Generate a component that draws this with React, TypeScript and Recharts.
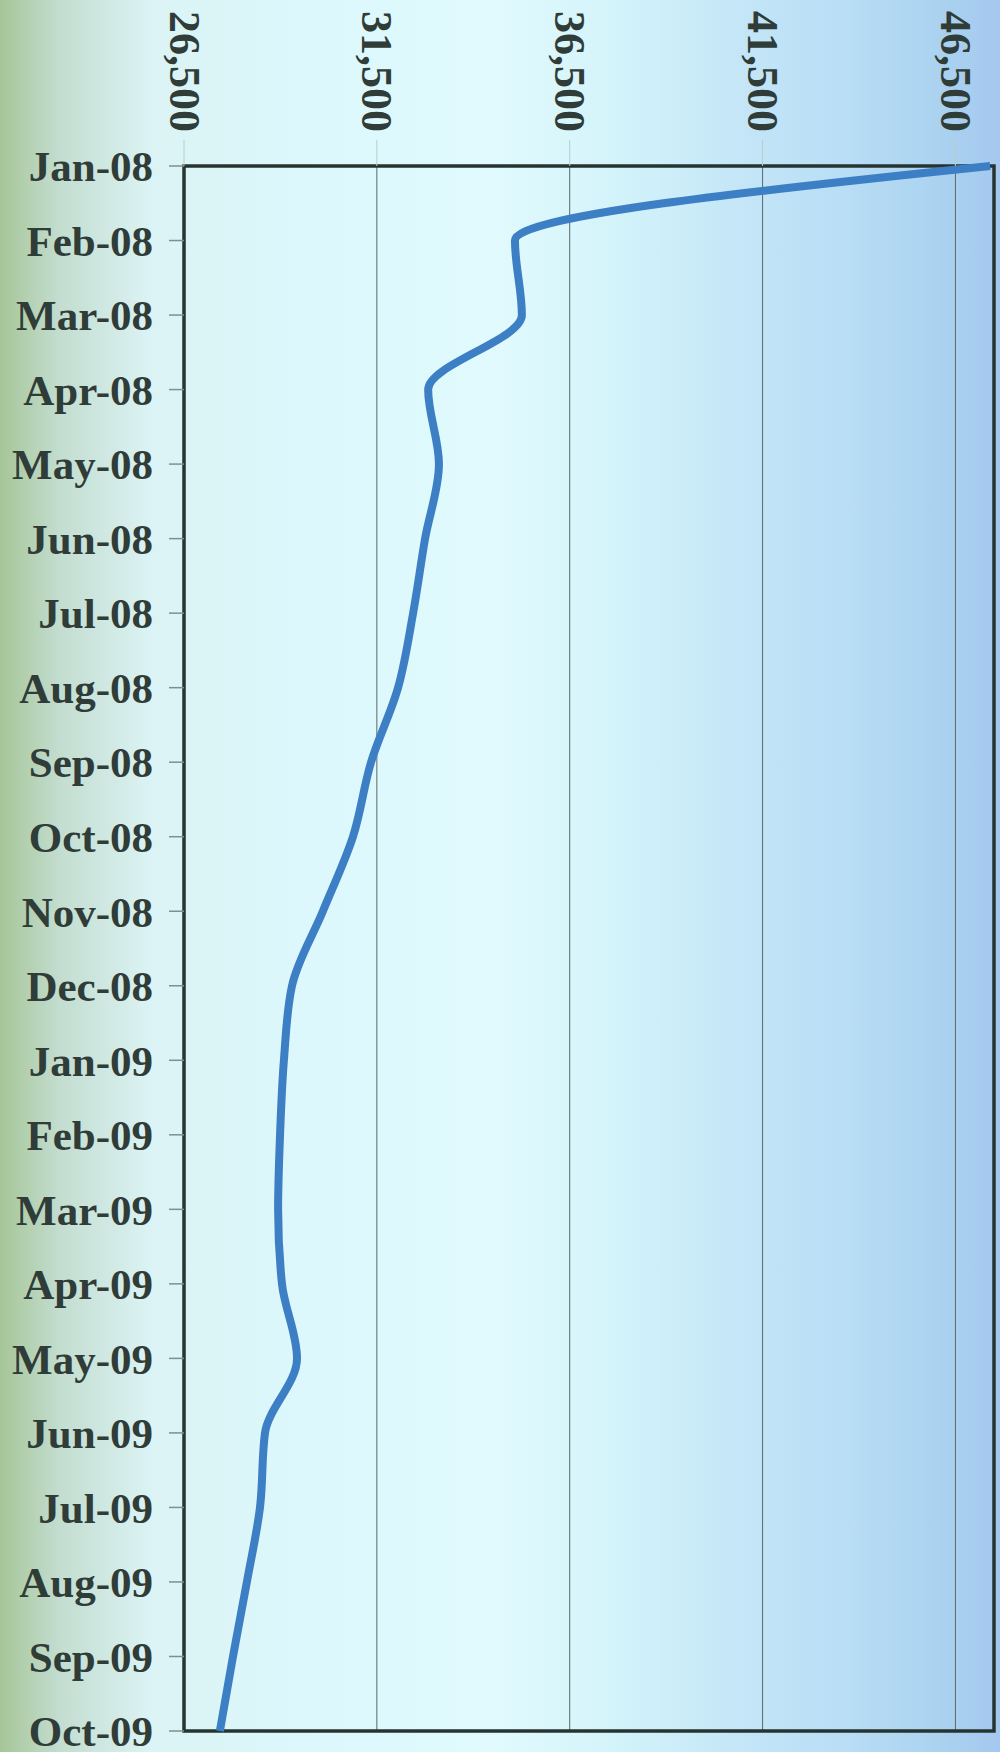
import React from "react";
import {
  LineChart,
  Line,
  XAxis,
  YAxis,
  CartesianGrid,
  ReferenceArea,
} from "recharts";

const months = [
  "Jan-08", "Feb-08", "Mar-08", "Apr-08", "May-08", "Jun-08", "Jul-08",
  "Aug-08", "Sep-08", "Oct-08", "Nov-08", "Dec-08", "Jan-09", "Feb-09",
  "Mar-09", "Apr-09", "May-09", "Jun-09", "Jul-09", "Aug-09", "Sep-09",
  "Oct-09",
];

const values = [
  47400, 35080, 35260, 32830, 33110, 32750, 32440, 32050, 31350, 30880,
  30100, 29300, 29090, 28990, 28940, 29040, 29430, 28600, 28470, 28130,
  27770, 27430,
];

const valueTicks = [26500, 31500, 36500, 41500, 46500];

const data = months.map((m, i) => ({ month: m, value: values[i] }));

const FONT = "'Liberation Serif', 'Times New Roman', serif";
const TEXT = "#2f3c38";

const TopTick = ({ x, y, payload }: { x?: number; y?: number; payload?: { value: number } }) => {
  if (x == null || y == null || !payload) return null;
  return (
    <text
      x={x}
      y={y}
      transform={`rotate(90, ${x}, ${y})`}
      textAnchor="end"
      dominantBaseline="central"
      fontFamily={FONT}
      fontWeight="bold"
      fontSize={44}
      fill={TEXT}
    >
      {payload.value.toLocaleString("en-US")}
    </text>
  );
};

export default function App() {
  return (
    <div
      style={{
        position: "absolute",
        left: 0,
        top: 0,
        width: 1000,
        height: 1752,
        background:
          "linear-gradient(to right, #a6c697 0%, #c3ddd0 6%, #dbf3f4 15%, #dcf8fc 30%, #e0fafd 50%, #d3f3fa 62%, #c3e5f7 75%, #b8ddf5 85%, #a9d1ef 95%, #a6c8f0 100%)",
      }}
    >
      <LineChart
        width={1000}
        height={1752}
        data={data}
        layout="vertical"
        margin={{ top: 0, right: 6, bottom: 21, left: 0 }}
      >
        <CartesianGrid horizontal={false} stroke="#5a6867" strokeWidth={1} />
        <XAxis
          type="number"
          orientation="top"
          domain={[26500, 47500]}
          ticks={valueTicks}
          height={166}
          axisLine={false}
          tickLine={{ stroke: "#b9cccc", strokeWidth: 1 }}
          tickSize={26}
          tickMargin={8}
          tick={<TopTick />}
        />
        <YAxis
          type="category"
          dataKey="month"
          width={184}
          interval={0}
          axisLine={false}
          tickLine={{ stroke: "#7f8f8d", strokeWidth: 1.5 }}
          tickSize={15}
          tickMargin={16}
          tick={{ fontFamily: FONT, fontWeight: "bold", fontSize: 43, fill: TEXT }}
        />
        <ReferenceArea
          x1={26500}
          x2={47500}
          y1="Jan-08"
          y2="Oct-09"
          fill="none"
          stroke="#263431"
          strokeWidth={3.5}
          ifOverflow="visible"
        />
        <Line
          type="monotone"
          dataKey="value"
          stroke="#3d7fc4"
          strokeWidth={8}
          dot={false}
          isAnimationActive={false}
        />
      </LineChart>
    </div>
  );
}
